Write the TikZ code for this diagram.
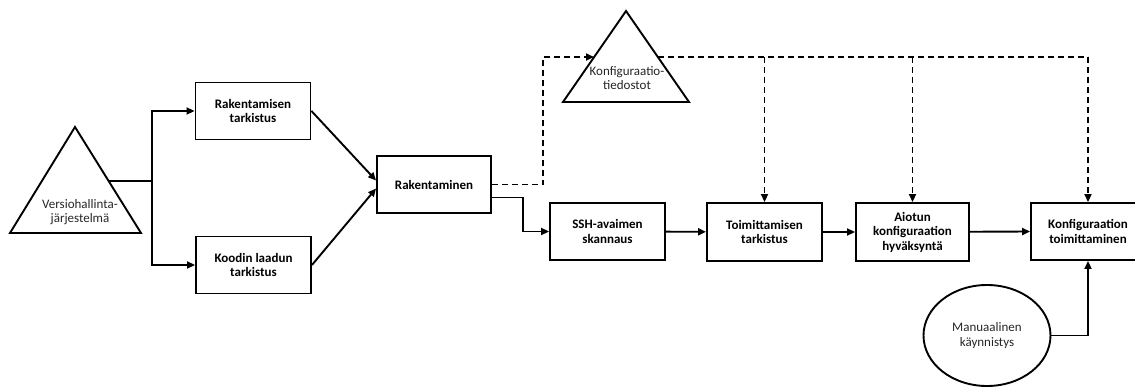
\documentclass[tikz,border=0pt]{standalone}
\usepackage{fontspec}
\setmainfont{Carlito}
\usetikzlibrary{arrows.meta,shapes.geometric}
\newcommand{\boxfont}{\fontsize{13pt}{14.5pt}\selectfont\bfseries}
\newcommand{\srcfont}{\fontsize{13pt}{14.5pt}\selectfont}
\tikzset{
  stage/.style={draw, line width=1.9pt, minimum width=115pt, minimum height=57pt,
                align=center, inner sep=2pt, font=\boxfont},
  flow/.style={line width=1.9pt, -{Triangle[length=8pt,width=7pt]}},
  cfgflow/.style={flow, dash pattern=on 6pt off 4pt},
  srcshape/.style={line width=1.9pt, line join=miter},
  srclabel/.style={align=center, font=\srcfont, inner sep=0pt, text=black!85}
}
\begin{document}
\begin{tikzpicture}[x=1pt,y=-1pt]
\useasboundingbox (0,0) rectangle (1135,387);

% version control source (triangle)
\draw[srcshape] (75,127) -- (141,233) -- (10,233) -- cycle;
\node[srclabel] (vcs) at (80,212) {Versiohallinta-\\järjestelmä};
\coordinate (vcsout) at (108.6,181);
\coordinate (split) at (152,181);

% configuration files (triangle)
\draw[srcshape] (626,11) -- (689,102) -- (563,102) -- cycle;
\node[srclabel] (cfg) at (627,78) {Konfiguraatio-\\tiedostot};
\coordinate (cfgin) at (594,57);
\coordinate (cfgout) at (658,57);

% pipeline stages
\node[stage] (rt)  at (253,111) {Rakentamisen\\tarkistus};
\node[stage] (kl)  at (253.5,265) {Koodin laadun\\tarkistus};
\node[stage, minimum width=114pt, minimum height=57pt] (rak) at (434,184.5) {Rakentaminen};
\node[stage] (ssh) at (607.5,231.5) {SSH-avaimen\\skannaus};
\node[stage, minimum height=58pt] (tt)  at (764.5,232) {Toimittamisen\\tarkistus};
\node[stage, minimum width=113pt, minimum height=58pt] (ak)  at (912.5,232) {Aiotun\\konfiguraation\\hyväksyntä};
\node[stage, minimum width=114pt, minimum height=57pt] (kt)  at (1088,231.5) {Konfiguraation\\toimittaminen};

% manual trigger
\node[draw, ellipse, line width=1.9pt, minimum width=127pt, minimum height=101pt,
      align=center, font=\srcfont, text=black!85, inner sep=0pt] (man) at (987,335.5) {Manuaalinen\\käynnistys};

% solid flow
\draw[line width=1.9pt] (vcsout) -- (split);
\draw[flow] (split) |- (rt.west);
\draw[flow] (split) |- (kl.west);
\draw[flow] (rt.east) -- ([yshift=4pt]rak.west);
\draw[flow] (kl.east) -- ([yshift=-4pt]rak.west);
\draw[flow] ([yshift=-13pt]rak.east) -- ++(31,0) |- (ssh.west);
\draw[flow] (ssh) -- (tt);
\draw[flow] (tt) -- (ak);
\draw[flow] (ak) -- (kt.west);
\draw[flow] (man.east) -| (kt.south);

% configuration distribution (dashed)
\draw[cfgflow] (rak.east) -- (543,184.5) |- (cfgin);
\draw[line width=1.9pt, dash pattern=on 6pt off 4pt] (cfgout) -- (1088,57);
\draw[cfgflow] (764.5,57) -- (tt.north);
\draw[cfgflow] (912.5,57) -- (ak.north);
\draw[cfgflow] (1088,57) -- (kt.north);
\end{tikzpicture}
\end{document}
